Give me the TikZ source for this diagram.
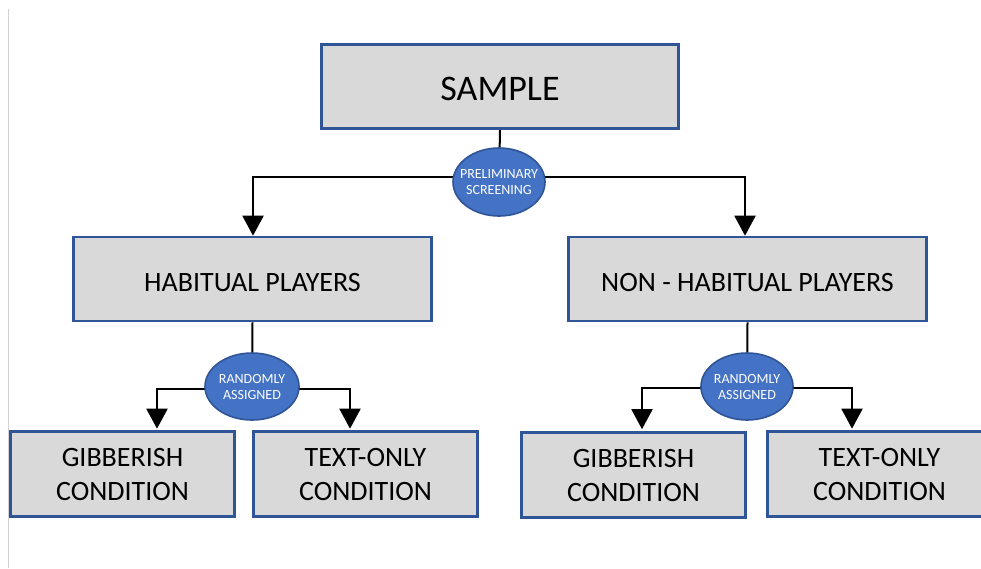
\documentclass[tikz,border=0pt]{standalone}
\usepackage{fontspec}
\setmainfont{Carlito}
\usetikzlibrary{arrows.meta,shapes.geometric,backgrounds}
\definecolor{boxfill}{HTML}{D9D9D9}
\definecolor{boxedge}{HTML}{2F5597}
\definecolor{ovalfill}{HTML}{4472C4}
\definecolor{ovaledge}{HTML}{2F5597}
% two centred lines that take no width, so the oval keeps its own size
\newcommand{\ovaltext}[2]{\makebox[0pt]{\parbox{120pt}{\centering #1\\#2}}}
\tikzset{
  box/.style={draw=boxedge, fill=boxfill, line width=2.6pt, inner sep=0pt,
    align=center, text=black},
  bigbox/.style={box, minimum width=358pt, minimum height=84pt,
    font=\fontsize{28}{34}\selectfont, text height=24pt, text depth=0pt},
  smallbox/.style={box, minimum width=224pt, minimum height=85pt,
    font=\fontsize{28}{34}\selectfont},
  oval/.style={ellipse, draw=ovaledge, fill=ovalfill, line width=1.6pt,
    inner sep=0pt, text=white,
    font=\fontsize{14}{16}\selectfont},
  conn/.style={draw=black, line width=2pt},
  arr/.style={conn, -{Triangle[width=21pt,length=20pt]}}
}
\begin{document}
\begin{tikzpicture}[x=1pt,y=-1pt]
\useasboundingbox (0,0) rectangle (981,568);
% thin page rule on the left
\draw[black!18, line width=1.5pt] (8.5,9) -- (8.5,568);

% boxes
\node[bigbox, minimum width=357pt, font=\fontsize{36}{40}\selectfont,
      text height=27pt] (sample) at (500,86.5) {SAMPLE};
\node[bigbox] (hab) at (252.5,279) {HABITUAL PLAYERS};
\node[bigbox] (non) at (747.5,279) {NON - HABITUAL PLAYERS};
\node[smallbox] (g1) at (122.5,474) {GIBBERISH\\CONDITION};
\node[smallbox] (t1) at (365.5,474) {TEXT-ONLY\\CONDITION};
\node[smallbox] (g2) at (633.5,475) {GIBBERISH\\CONDITION};
\node[smallbox] (t2) at (879.5,474) {TEXT-ONLY\\CONDITION};

% ovals
\node[oval, minimum width=92pt, minimum height=68pt] (pre) at (499,182)
  {\ovaltext{PRELIMINARY}{SCREENING}};
\node[oval, minimum width=94pt, minimum height=67pt] (ra1) at (252,386.5)
  {\ovaltext{RANDOMLY}{ASSIGNED}};
\node[oval, minimum width=92pt, minimum height=67pt] (ra2) at (747,386.5)
  {\ovaltext{RANDOMLY}{ASSIGNED}};

% connectors behind the shapes
\begin{scope}[on background layer]
\draw[conn] (sample.south) -- (pre.center);
\draw[arr] ([yshift=5pt]pre.center) -| ([xshift=0.5pt]hab.north);
\draw[arr] ([yshift=5pt]pre.center) -| ([xshift=-2.5pt]non.north);

\draw[conn] (hab.south) -- (ra1.center);
\draw[arr] ([yshift=-2.5pt]ra1.center) -| ([xshift=34.5pt,yshift=1.5pt]g1.north);
\draw[arr] ([yshift=-2.5pt]ra1.center) -| ([xshift=-15.5pt,yshift=1.5pt]t1.north);

\draw[conn] (non.south) -- (ra2.center);
\draw[arr] ([yshift=-1.5pt]ra2.center) -| ([xshift=8.5pt,yshift=2pt]g2.north);
\draw[arr] ([yshift=-1.5pt]ra2.center) -| ([xshift=-27.5pt,yshift=1.5pt]t2.north);
\end{scope}
\end{tikzpicture}
\end{document}
